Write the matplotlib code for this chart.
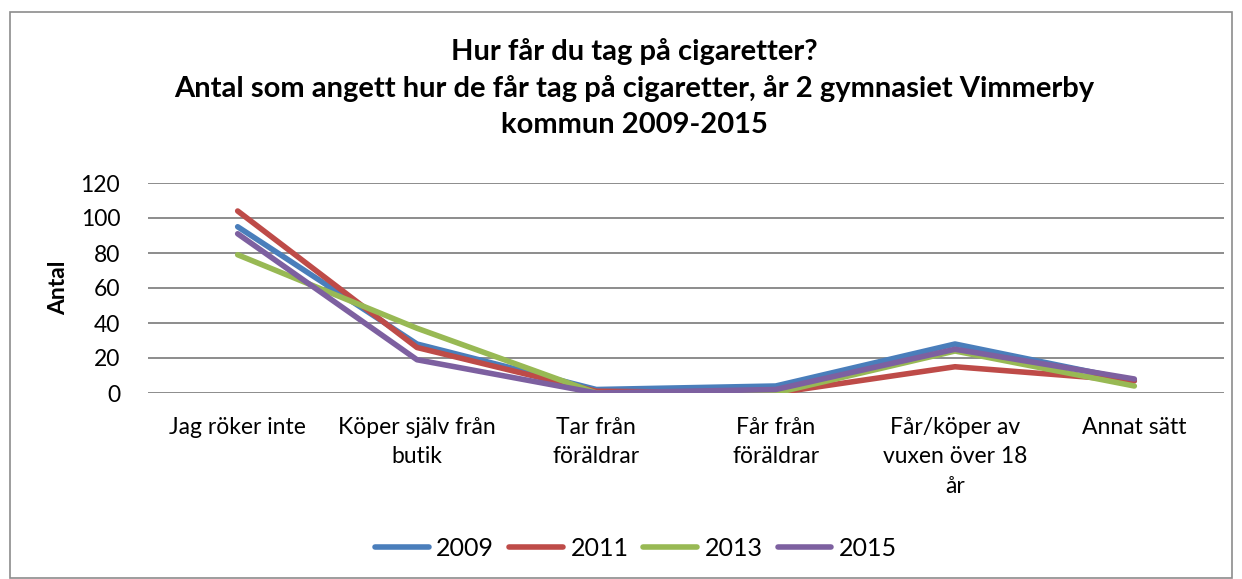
import matplotlib
matplotlib.use("Agg")
import matplotlib.pyplot as plt
from matplotlib.patches import Rectangle

categories = ["Jag röker inte", "Köper själv från\nbutik", "Tar från\nföräldrar",
              "Får från\nföräldrar", "Får/köper av\nvuxen över 18\når", "Annat sätt"]
years = ["2009", "2011", "2013", "2015"]
v2009 = [95, 28, 2, 4, 28, 7]
v2011 = [104, 26, 1, 0, 15, 7]
v2013 = [79, 37, 0, 0, 24, 4]
v2015 = [91, 19, 0, 2, 25, 8]
series = [v2009, v2011, v2013, v2015]
colors = ["#4A7EBB", "#BE4B48", "#98B954", "#7D60A0"]
yticks = [0, 20, 40, 60, 80, 100, 120]

plt.rcParams['font.family'] = ['Lato', 'DejaVu Sans']

fig = plt.figure(figsize=(12.42, 5.79), dpi=100)
ax = fig.add_axes([148/1242, 1-393/579, (1224-148)/1242, (393-183)/579])

x = list(range(len(categories)))
for vals, c, lab in zip(series, colors, years):
    ax.plot(x, vals, color=c, lw=4.0, label=lab, solid_capstyle='round', solid_joinstyle='round')

ax.set_xlim(-0.5, len(categories) - 0.5)
ax.set_ylim(0, 120)
ax.set_yticks(yticks)
ax.set_yticklabels([str(t) for t in yticks], fontsize=16.5)
ax.set_xticks(x)
ax.set_xticklabels(categories, fontsize=16.5, linespacing=1.5, va='top')
ax.tick_params(axis='x', length=0, pad=17)
ax.tick_params(axis='y', length=0, pad=20)
ax.yaxis.grid(True, color='#8C8C8C', lw=1.4)
ax.set_axisbelow(True)
for s in ax.spines.values():
    s.set_visible(False)
ax.set_ylabel("Antal", fontsize=16.5, fontweight='bold', labelpad=8)

fig.text(0.511, 1-88/579, "Hur får du tag på cigaretter?\nAntal som angett hur de får tag på cigaretter, år 2 gymnasiet Vimmerby\nkommun 2009-2015",
         ha='center', va='center', multialignment='center', fontsize=21, fontweight='bold', linespacing=1.47)

leg = fig.legend(loc='center', bbox_to_anchor=(636/1242, 1-548/579), ncol=4, frameon=False,
                 fontsize=18, handlelength=2.15, columnspacing=0.6, handletextpad=0.3)
for h in leg.get_lines():
    h.set_linewidth(4.0)
    h.set_solid_capstyle('round')

fig.patches.append(Rectangle((10/1242, 1-578/579), (1232-10)/1242, (578-12)/579,
                             transform=fig.transFigure, fill=False, edgecolor='#8C8C8C', lw=1.2))

fig.savefig("out.png", dpi=100)
